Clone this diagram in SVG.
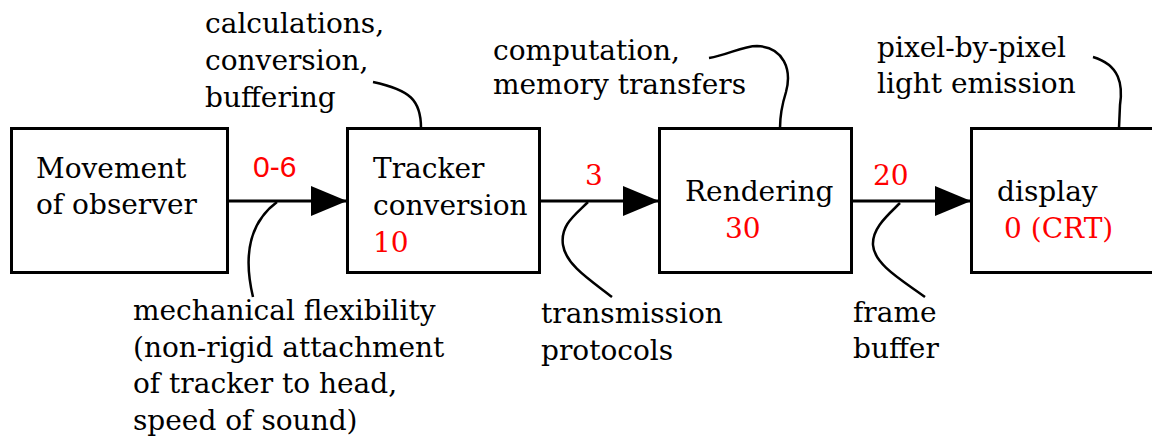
<svg xmlns="http://www.w3.org/2000/svg" width="1152" height="441" viewBox="0 0 1152 441">
<style>
.box{fill:#fff;stroke:#000;stroke-width:3}
.t{font-family:"DejaVu Serif","Liberation Serif",serif;font-size:28px;fill:#000}
.r{font-family:"DejaVu Serif","Liberation Serif",serif;font-size:28px;fill:#ff0000}
.rs{font-family:"Liberation Sans","DejaVu Sans",Arial,sans-serif;font-size:30px;fill:#ff0000}
.ln{fill:none;stroke:#000;stroke-width:3}
.lead{fill:none;stroke:#000;stroke-width:2.5}
</style>
<defs>
<marker id="ah" viewBox="0 0 36 30" refX="36" refY="15" markerWidth="36" markerHeight="30" markerUnits="userSpaceOnUse" orient="auto">
<path d="M0,0 L36,15 L0,30 Z" fill="#000"/>
</marker>
</defs>
<rect width="1152" height="441" fill="#fff"/>
<g id="node-movement">
<rect class="box" x="11.5" y="128.5" width="216" height="144"/>
<text class="t" x="36" y="178">Movement</text>
<text class="t" x="36" y="214">of observer</text>
</g>
<g id="node-tracker">
<rect class="box" x="347.5" y="128.5" width="192" height="144"/>
<text class="t" x="373" y="178">Tracker</text>
<text class="t" x="373" y="215">conversion</text>
<text class="r" x="373" y="252">10</text>
</g>
<g id="node-rendering">
<rect class="box" x="659.5" y="128.5" width="192" height="144"/>
<text class="t" x="685" y="201">Rendering</text>
<text class="r" x="725" y="238">30</text>
</g>
<g id="node-display">
<rect class="box" x="971.5" y="128.5" width="200" height="144"/>
<text class="t" x="997" y="201">display</text>
<text class="r" x="1004" y="238">0 (CRT)</text>
</g>
<g id="connectors">
<line class="ln" x1="228" y1="201" x2="347" y2="201" marker-end="url(#ah)"/>
<line class="ln" x1="540" y1="201" x2="659" y2="201" marker-end="url(#ah)"/>
<line class="ln" x1="852" y1="201" x2="971" y2="201" marker-end="url(#ah)"/>
<path class="lead" d="M277,202 C250,222 243,255 253,297"/>
<path class="lead" d="M373,82 C410,90 421,100 421,128"/>
<path class="lead" d="M709,58 C728,55 742,46 757,46 C784,47 792,70 786,92 C781,108 780,116 780,128"/>
<path class="lead" d="M1093,57 C1120,65 1123,85 1120,105 L1119,128"/>
<path class="lead" d="M588,202 C575,215 560,225 563,245 C566,265 590,280 612,297"/>
<path class="lead" d="M900,203 C888,215 872,228 873,245 C874,265 905,282 925,297"/>
</g>
<g id="edge-labels">
<text class="rs" x="253" y="177">0-6</text>
<text class="r" x="585" y="185">3</text>
<text class="r" x="873" y="185">20</text>
</g>
<g id="note-calculations">
<text class="t" x="205" y="33">calculations,</text>
<text class="t" x="205" y="70">conversion,</text>
<text class="t" x="205" y="107">buffering</text>
</g>
<g id="note-computation">
<text class="t" x="493" y="60">computation,</text>
<text class="t" x="493" y="94">memory transfers</text>
</g>
<g id="note-pixel">
<text class="t" x="877" y="57">pixel-by-pixel</text>
<text class="t" x="877" y="93">light emission</text>
</g>
<g id="note-mechanical">
<text class="t" x="133" y="320">mechanical flexibility</text>
<text class="t" x="133" y="357">(non-rigid attachment</text>
<text class="t" x="133" y="393">of tracker to head,</text>
<text class="t" x="133" y="430">speed of sound)</text>
</g>
<g id="note-transmission">
<text class="t" x="541" y="323">transmission</text>
<text class="t" x="541" y="360">protocols</text>
</g>
<g id="note-frame">
<text class="t" x="853" y="322">frame</text>
<text class="t" x="853" y="358">buffer</text>
</g>
</svg>
